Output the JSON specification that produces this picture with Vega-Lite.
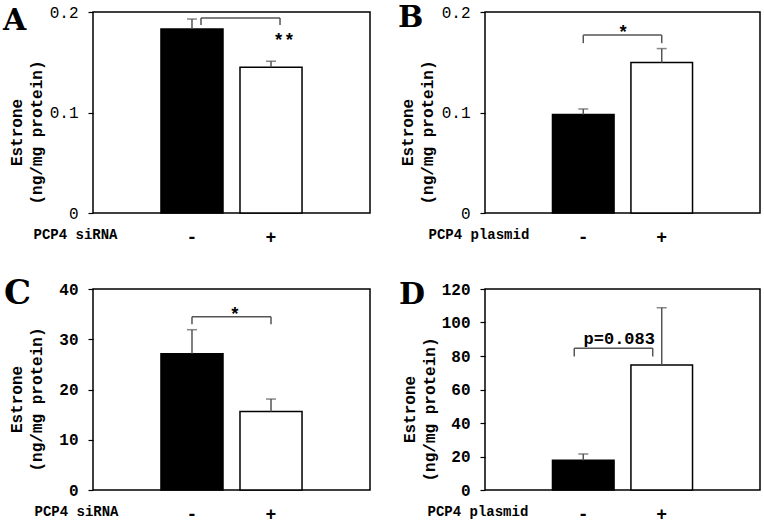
{
  "$schema": "https://vega.github.io/schema/vega-lite/v6.json",
  "padding": {"left": 2, "top": 2, "right": 0, "bottom": 10},
  "background": "white",
  "bounds": "flush",
  "columns": 2,
  "spacing": {"row": 76, "column": 115},
  "config": {
    "view": {"stroke": "#000", "strokeWidth": 1.5},
    "axis": {"grid": false, "labelOverlap": false},
    "axisY": {"labelOverlap": false},
    "axisQuantitative": {"labelOverlap": false},
    "text": {"font": "Liberation Mono", "fontWeight": "bold", "color": "#000"}
  },
  "concat": [
    {
      "width": 277, "height": 201,
      "title": {"text": "A", "anchor": "start", "frame": "group", "font": "DejaVu Serif", "fontSize": 30, "fontWeight": "bold", "color": "#000", "baseline": "alphabetic", "offset": 0, "dx": -90, "dy": 56},
      "layer": [
        {
          "data": {"values": [{"treat": "-", "mean": 0.183, "upper": 0.193}, {"treat": "+", "mean": 0.145, "upper": 0.151}]},
          "layer": [
            {"mark": {"type": "bar", "stroke": "#000", "strokeWidth": 1.5},
             "encoding": {
               "x": {"field": "treat", "type": "nominal", "sort": ["-", "+"], "scale": {"domain": ["-", "+"], "paddingInner": 0.215, "paddingOuter": 0.86},
                     "axis": {"title": "PCP4 siRNA", "domain": false, "ticks": false, "labelAngle": 0, "labelPadding": 24, "labelBaseline": "middle", "labelFont": "Liberation Mono", "labelFontSize": 18, "labelFontWeight": "bold", "labelColor": "#000", "titleFont": "Liberation Mono", "titleFontSize": 14, "titleFontWeight": "bold", "titleColor": "#000", "titleX": -60, "titleY": 21, "titleAlign": "left", "titleBaseline": "middle", "titleAnchor": null}},
               "y": {"field": "mean", "type": "quantitative", "scale": {"domain": [0, 0.2], "nice": false},
                     "axis": {"title": ["Estrone", "(ng/mg protein)"], "values": [0, 0.1, 0.2], "format": "~g", "labelOverlap": false, "domain": false, "tickSize": 5, "tickColor": "#000", "tickWidth": 1.2, "labelPadding": 10, "labelFont": "Liberation Mono", "labelFontSize": 16, "labelFontWeight": "normal", "labelColor": "#000", "titleFont": "Liberation Mono", "titleFontSize": 16, "titleFontWeight": "bold", "titleColor": "#000", "titleAngle": 270, "titleX": -77, "titleY": 120, "titleAlign": "center", "titleBaseline": "middle", "titleLineHeight": 20}},
               "fill": {"field": "treat", "type": "nominal", "scale": {"domain": ["-", "+"], "range": ["#000", "#fff"]}, "legend": null}
             }},
            {"mark": {"type": "rule", "color": "#555", "strokeWidth": 1.5},
             "encoding": {"x": {"field": "treat", "type": "nominal"}, "y": {"field": "mean", "type": "quantitative"}, "y2": {"field": "upper"}}},
            {"mark": {"type": "tick", "color": "#555", "thickness": 1.5, "size": 10},
             "encoding": {"x": {"field": "treat", "type": "nominal"}, "y": {"field": "upper", "type": "quantitative"}}}
          ]
        },
        {
          "data": {"values": [{"a": "-", "b": "+", "top": 0.194, "leg": 0.187, "label": "**", "ty": 0.171}]},
          "layer": [
            {"mark": {"type": "rule", "color": "#555", "strokeWidth": 1.5, "xOffset": 9, "x2Offset": 9},
             "encoding": {"x": {"field": "a", "type": "nominal", "bandPosition": 0.5}, "x2": {"field": "b", "bandPosition": 0.5}, "y": {"field": "top", "type": "quantitative"}}},
            {"mark": {"type": "rule", "color": "#555", "strokeWidth": 1.5, "xOffset": 9},
             "encoding": {"x": {"field": "a", "type": "nominal"}, "y": {"field": "top", "type": "quantitative"}, "y2": {"field": "leg"}}},
            {"mark": {"type": "rule", "color": "#555", "strokeWidth": 1.5, "xOffset": 9},
             "encoding": {"x": {"field": "b", "type": "nominal"}, "y": {"field": "top", "type": "quantitative"}, "y2": {"field": "leg"}}},
            {"mark": {"type": "text", "fontSize": 18, "baseline": "middle", "xOffset": 13},
             "encoding": {"x": {"field": "b", "type": "nominal"}, "y": {"field": "ty", "type": "quantitative"}, "text": {"field": "label"}}}
          ]
        }
      ]
    },
    {
      "width": 275, "height": 201,
      "title": {"text": "B", "anchor": "start", "frame": "group", "font": "DejaVu Serif", "fontSize": 30, "fontWeight": "bold", "color": "#000", "baseline": "alphabetic", "offset": 0, "dx": -87, "dy": 53},
      "layer": [
        {
          "data": {"values": [{"treat": "-", "mean": 0.098, "upper": 0.1035}, {"treat": "+", "mean": 0.1497, "upper": 0.1636}]},
          "layer": [
            {"mark": {"type": "bar", "stroke": "#000", "strokeWidth": 1.5},
             "encoding": {
               "x": {"field": "treat", "type": "nominal", "sort": ["-", "+"], "scale": {"domain": ["-", "+"], "paddingInner": 0.215, "paddingOuter": 0.86},
                     "axis": {"title": "PCP4 plasmid", "domain": false, "ticks": false, "labelAngle": 0, "labelPadding": 24, "labelBaseline": "middle", "labelFont": "Liberation Mono", "labelFontSize": 18, "labelFontWeight": "bold", "labelColor": "#000", "titleFont": "Liberation Mono", "titleFontSize": 14, "titleFontWeight": "bold", "titleColor": "#000", "titleX": -57, "titleY": 21, "titleAlign": "left", "titleBaseline": "middle", "titleAnchor": null}},
               "y": {"field": "mean", "type": "quantitative", "scale": {"domain": [0, 0.2], "nice": false},
                     "axis": {"title": ["Estrone", "(ng/mg protein)"], "values": [0, 0.1, 0.2], "format": "~g", "labelOverlap": false, "domain": false, "tickSize": 5, "tickColor": "#000", "tickWidth": 1.2, "labelPadding": 10, "labelFont": "Liberation Mono", "labelFontSize": 16, "labelFontWeight": "normal", "labelColor": "#000", "titleFont": "Liberation Mono", "titleFontSize": 16, "titleFontWeight": "bold", "titleColor": "#000", "titleAngle": 270, "titleX": -78, "titleY": 120, "titleAlign": "center", "titleBaseline": "middle", "titleLineHeight": 20}},
               "fill": {"field": "treat", "type": "nominal", "scale": {"domain": ["-", "+"], "range": ["#000", "#fff"]}, "legend": null}
             }},
            {"mark": {"type": "rule", "color": "#555", "strokeWidth": 1.5},
             "encoding": {"x": {"field": "treat", "type": "nominal"}, "y": {"field": "mean", "type": "quantitative"}, "y2": {"field": "upper"}}},
            {"mark": {"type": "tick", "color": "#555", "thickness": 1.5, "size": 10},
             "encoding": {"x": {"field": "treat", "type": "nominal"}, "y": {"field": "upper", "type": "quantitative"}}}
          ]
        },
        {
          "data": {"values": [{"a": "-", "b": "+", "top": 0.177, "leg": 0.169, "label": "*", "ty": 0.179}]},
          "layer": [
            {"mark": {"type": "rule", "color": "#555", "strokeWidth": 1.5},
             "encoding": {"x": {"field": "a", "type": "nominal", "bandPosition": 0.5}, "x2": {"field": "b", "bandPosition": 0.5}, "y": {"field": "top", "type": "quantitative"}}},
            {"mark": {"type": "rule", "color": "#555", "strokeWidth": 1.5},
             "encoding": {"x": {"field": "a", "type": "nominal"}, "y": {"field": "top", "type": "quantitative"}, "y2": {"field": "leg"}}},
            {"mark": {"type": "rule", "color": "#555", "strokeWidth": 1.5},
             "encoding": {"x": {"field": "b", "type": "nominal"}, "y": {"field": "top", "type": "quantitative"}, "y2": {"field": "leg"}}},
            {"mark": {"type": "text", "fontSize": 18, "baseline": "middle", "xOffset": 40},
             "encoding": {"x": {"field": "a", "type": "nominal"}, "y": {"field": "ty", "type": "quantitative"}, "text": {"field": "label"}}}
          ]
        }
      ]
    },
    {
      "width": 277, "height": 201,
      "title": {"text": "C", "anchor": "start", "frame": "group", "font": "DejaVu Serif", "fontSize": 34, "fontWeight": "bold", "color": "#000", "baseline": "alphabetic", "offset": 0, "dx": -89, "dy": 57},
      "layer": [
        {
          "data": {"values": [{"treat": "-", "mean": 27.1, "upper": 31.9}, {"treat": "+", "mean": 15.6, "upper": 18.1}]},
          "layer": [
            {"mark": {"type": "bar", "stroke": "#000", "strokeWidth": 1.5},
             "encoding": {
               "x": {"field": "treat", "type": "nominal", "sort": ["-", "+"], "scale": {"domain": ["-", "+"], "paddingInner": 0.215, "paddingOuter": 0.86},
                     "axis": {"title": "PCP4 siRNA", "domain": false, "ticks": false, "labelAngle": 0, "labelPadding": 24, "labelBaseline": "middle", "labelFont": "Liberation Mono", "labelFontSize": 18, "labelFontWeight": "bold", "labelColor": "#000", "titleFont": "Liberation Mono", "titleFontSize": 14, "titleFontWeight": "bold", "titleColor": "#000", "titleX": -59, "titleY": 21, "titleAlign": "left", "titleBaseline": "middle", "titleAnchor": null}},
               "y": {"field": "mean", "type": "quantitative", "scale": {"domain": [0, 40], "nice": false},
                     "axis": {"title": ["Estrone", "(ng/mg protein)"], "values": [0, 10, 20, 30, 40], "labelOverlap": false, "domain": false, "tickSize": 5, "tickColor": "#000", "tickWidth": 1.2, "labelPadding": 10, "labelFont": "Liberation Mono", "labelFontSize": 16, "labelFontWeight": "bold", "labelColor": "#000", "titleFont": "Liberation Mono", "titleFontSize": 16, "titleFontWeight": "bold", "titleColor": "#000", "titleAngle": 270, "titleX": -77, "titleY": 110, "titleAlign": "center", "titleBaseline": "middle", "titleLineHeight": 20}},
               "fill": {"field": "treat", "type": "nominal", "scale": {"domain": ["-", "+"], "range": ["#000", "#fff"]}, "legend": null}
             }},
            {"mark": {"type": "rule", "color": "#555", "strokeWidth": 1.5},
             "encoding": {"x": {"field": "treat", "type": "nominal"}, "y": {"field": "mean", "type": "quantitative"}, "y2": {"field": "upper"}}},
            {"mark": {"type": "tick", "color": "#555", "thickness": 1.5, "size": 10},
             "encoding": {"x": {"field": "treat", "type": "nominal"}, "y": {"field": "upper", "type": "quantitative"}}}
          ]
        },
        {
          "data": {"values": [{"a": "-", "b": "+", "top": 34.5, "leg": 33.0, "label": "*", "ty": 34.8}]},
          "layer": [
            {"mark": {"type": "rule", "color": "#555", "strokeWidth": 1.5},
             "encoding": {"x": {"field": "a", "type": "nominal", "bandPosition": 0.5}, "x2": {"field": "b", "bandPosition": 0.5}, "y": {"field": "top", "type": "quantitative"}}},
            {"mark": {"type": "rule", "color": "#555", "strokeWidth": 1.5},
             "encoding": {"x": {"field": "a", "type": "nominal"}, "y": {"field": "top", "type": "quantitative"}, "y2": {"field": "leg"}}},
            {"mark": {"type": "rule", "color": "#555", "strokeWidth": 1.5},
             "encoding": {"x": {"field": "b", "type": "nominal"}, "y": {"field": "top", "type": "quantitative"}, "y2": {"field": "leg"}}},
            {"mark": {"type": "text", "fontSize": 18, "baseline": "middle", "xOffset": 43},
             "encoding": {"x": {"field": "a", "type": "nominal"}, "y": {"field": "ty", "type": "quantitative"}, "text": {"field": "label"}}}
          ]
        }
      ]
    },
    {
      "width": 275, "height": 201,
      "title": {"text": "D", "anchor": "start", "frame": "group", "font": "DejaVu Serif", "fontSize": 30, "fontWeight": "bold", "color": "#000", "baseline": "alphabetic", "offset": 0, "dx": -86, "dy": 53},
      "layer": [
        {
          "data": {"values": [{"treat": "-", "mean": 17.7, "upper": 21.5}, {"treat": "+", "mean": 74.7, "upper": 108.8}]},
          "layer": [
            {"mark": {"type": "bar", "stroke": "#000", "strokeWidth": 1.5},
             "encoding": {
               "x": {"field": "treat", "type": "nominal", "sort": ["-", "+"], "scale": {"domain": ["-", "+"], "paddingInner": 0.215, "paddingOuter": 0.86},
                     "axis": {"title": "PCP4 plasmid", "domain": false, "ticks": false, "labelAngle": 0, "labelPadding": 24, "labelBaseline": "middle", "labelFont": "Liberation Mono", "labelFontSize": 18, "labelFontWeight": "bold", "labelColor": "#000", "titleFont": "Liberation Mono", "titleFontSize": 14, "titleFontWeight": "bold", "titleColor": "#000", "titleX": -58, "titleY": 21, "titleAlign": "left", "titleBaseline": "middle", "titleAnchor": null}},
               "y": {"field": "mean", "type": "quantitative", "scale": {"domain": [0, 120], "nice": false},
                     "axis": {"title": ["Estrone", "(ng/mg protein)"], "values": [0, 20, 40, 60, 80, 100, 120], "tickCount": 7, "labelOverlap": false, "labelSeparation": -10, "domain": false, "tickSize": 5, "tickColor": "#000", "tickWidth": 1.2, "labelPadding": 10, "labelFont": "Liberation Mono", "labelFontSize": 16, "labelFontWeight": "bold", "labelColor": "#000", "titleFont": "Liberation Mono", "titleFontSize": 16, "titleFontWeight": "bold", "titleColor": "#000", "titleAngle": 270, "titleX": -76, "titleY": 120, "titleAlign": "center", "titleBaseline": "middle", "titleLineHeight": 20}},
               "fill": {"field": "treat", "type": "nominal", "scale": {"domain": ["-", "+"], "range": ["#000", "#fff"]}, "legend": null}
             }},
            {"mark": {"type": "rule", "color": "#555", "strokeWidth": 1.5},
             "encoding": {"x": {"field": "treat", "type": "nominal"}, "y": {"field": "mean", "type": "quantitative"}, "y2": {"field": "upper"}}},
            {"mark": {"type": "tick", "color": "#555", "thickness": 1.5, "size": 10},
             "encoding": {"x": {"field": "treat", "type": "nominal"}, "y": {"field": "upper", "type": "quantitative"}}}
          ]
        },
        {
          "data": {"values": [{"a": "-", "b": "+", "top": 84.7, "leg": 79.7, "label": "p=0.083", "ty": 90.1}]},
          "layer": [
            {"mark": {"type": "rule", "color": "#555", "strokeWidth": 1.5, "xOffset": -9, "x2Offset": -9},
             "encoding": {"x": {"field": "a", "type": "nominal", "bandPosition": 0.5}, "x2": {"field": "b", "bandPosition": 0.5}, "y": {"field": "top", "type": "quantitative"}}},
            {"mark": {"type": "rule", "color": "#555", "strokeWidth": 1.5, "xOffset": -9},
             "encoding": {"x": {"field": "a", "type": "nominal"}, "y": {"field": "top", "type": "quantitative"}, "y2": {"field": "leg"}}},
            {"mark": {"type": "rule", "color": "#555", "strokeWidth": 1.5, "xOffset": -9},
             "encoding": {"x": {"field": "b", "type": "nominal"}, "y": {"field": "top", "type": "quantitative"}, "y2": {"field": "leg"}}},
            {"mark": {"type": "text", "fontSize": 17, "baseline": "middle", "xOffset": 36},
             "encoding": {"x": {"field": "a", "type": "nominal"}, "y": {"field": "ty", "type": "quantitative"}, "text": {"field": "label"}}}
          ]
        }
      ]
    }
  ]
}
